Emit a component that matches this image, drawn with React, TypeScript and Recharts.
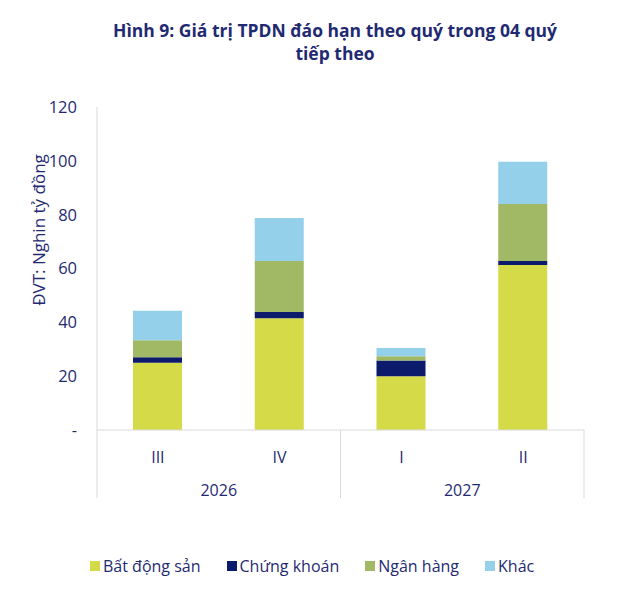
import { Bar, BarChart, XAxis, YAxis } from 'recharts';

// Giá trị TPDN đáo hạn theo quý (nghìn tỷ đồng)
const quarters = ['III', 'IV', 'I', 'II'];
const years = ['2026', '2026', '2027', '2027'];
const batDongSan = [25, 41.5, 20, 61.3];
const chungKhoan = [2, 2.3, 5.8, 1.5];
const nganHang = [6.3, 19, 1.6, 21.2];
const khac = [11, 16, 3.1, 15.7];
const yTicks = [0, 20, 40, 60, 80, 100, 120];

const seriesNames = ['Bất động sản', 'Chứng khoán', 'Ngân hàng', 'Khác'];
const seriesKeys = ['bds', 'ck', 'nh', 'khac'];
const seriesColors = ['#d4da48', '#0c1a6c', '#a1b965', '#95d0eb'];

const TEXT = '#1f2a72';
const GRID = '#d9d9d9';
const FONT = '"Open Sans", "Noto Sans", sans-serif';

const CHART_W = 628;
const MARGIN = { top: 107, right: 44, bottom: 12, left: 37 };
const Y_AXIS_W = 60;
const PLOT_W = CHART_W - MARGIN.left - MARGIN.right - Y_AXIS_W;

const chartData = quarters.map((q, i) => ({
  quarter: q,
  year: years[i],
  bds: batDongSan[i],
  ck: chungKhoan[i],
  nh: nganHang[i],
  khac: khac[i],
}));

// quarter label + year group label + group separators
function QuarterTick(props: any) {
  const { x, y, payload, index } = props;
  const band = PLOT_W / quarters.length;
  const year = years[index];
  const first = index === 0 || years[index - 1] !== year;
  const last = index === quarters.length - 1;
  const count = years.filter((v) => v === year).length;
  return (
    <g>
      <text x={x} y={y + 27} textAnchor="middle" dominantBaseline="central" fill={TEXT} fontSize={16} fontFamily={FONT}>
        {payload.value}
      </text>
      {first && <line x1={x - band / 2} x2={x - band / 2} y1={y} y2={y + 68} stroke={GRID} />}
      {last && <line x1={x + band / 2} x2={x + band / 2} y1={y} y2={y + 68} stroke={GRID} />}
      {first && (
        <text x={x - band / 2 + (band * count) / 2} y={y + 60} textAnchor="middle" dominantBaseline="central" fill={TEXT} fontSize={16} fontFamily={FONT}>
          {year}
        </text>
      )}
    </g>
  );
}

export default function App(): JSX.Element {
  return (
    <div style={{ position: 'absolute', left: 0, top: 0, width: 628, height: 613, background: '#fff', fontFamily: FONT }}>
      <div
        style={{
          position: 'absolute',
          top: 19,
          left: 80,
          width: 510,
          textAlign: 'center',
          color: TEXT,
          fontWeight: 700,
          fontSize: 17.5,
          lineHeight: '23px',
        }}
      >
        Hình 9: Giá trị TPDN đáo hạn theo quý trong 04 quý
        <br />
        tiếp theo
      </div>
      <div style={{ position: 'absolute', left: 0, top: 0 }}>
        <BarChart width={CHART_W} height={510} data={chartData} margin={MARGIN}>
          <XAxis
            dataKey="quarter"
            axisLine={{ stroke: GRID }}
            tickLine={false}
            tickSize={0}
            tickMargin={0}
            height={68}
            interval={0}
            tick={<QuarterTick />}
          />
          <YAxis
            domain={[0, 120]}
            ticks={yTicks}
            interval={0}
            width={Y_AXIS_W}
            axisLine={{ stroke: GRID }}
            tickLine={false}
            tickSize={0}
            tickMargin={20}
            tick={{ fill: TEXT, fontSize: 16.5, fontFamily: FONT }}
            tickFormatter={(v: number) => (v === 0 ? '-' : String(v))}
            label={{
              content: () => (
                <text x={38} y={230} transform="rotate(-90 38 230)" textAnchor="middle" dominantBaseline="central" fill={TEXT} fontSize={17} fontFamily={FONT}>
                  ĐVT: Nghin tỷ đồng
                </text>
              ),
            }}
          />
          {seriesKeys.map((k, i) => (
            <Bar key={k} dataKey={k} stackId="a" fill={seriesColors[i]} name={seriesNames[i]} barSize={49} isAnimationActive={false} />
          ))}
        </BarChart>
      </div>
      <div style={{ position: 'absolute', top: 555, left: 90, display: 'flex', gap: 26, color: TEXT, fontSize: 16 }}>
        {seriesNames.map((name, i) => (
          <div key={name} style={{ display: 'flex', alignItems: 'center', gap: 3 }}>
            <span style={{ width: 10, height: 10, background: seriesColors[i], display: 'inline-block' }} />
            <span>{name}</span>
          </div>
        ))}
      </div>
    </div>
  );
}
